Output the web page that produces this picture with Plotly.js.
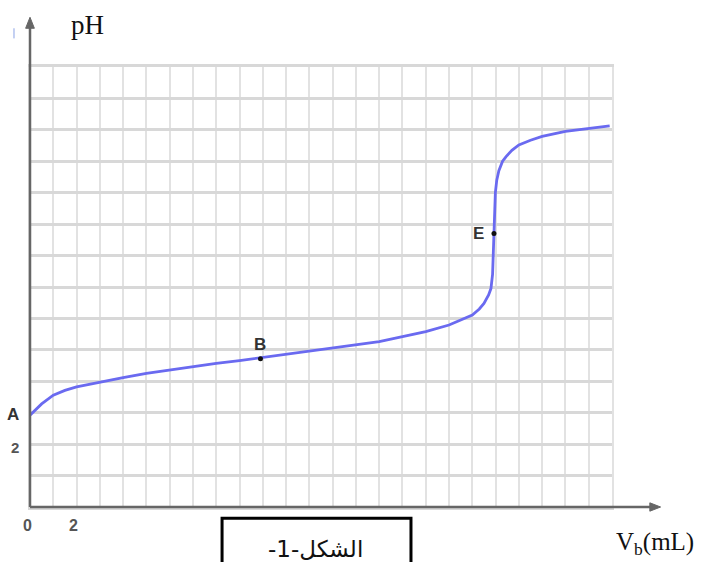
<!DOCTYPE html>
<html>
<head>
<meta charset="utf-8">
<script src="https://cdn.plot.ly/plotly-3.0.1.min.js"></script>
<style>html,body{margin:0;padding:0;background:#fff;}#chart{width:703px;height:562px;}</style>
</head>
<body>
<div id="chart"></div>
<script>
// Titration curve data
var vb = [0, 0.25, 0.5, 1, 1.5, 2, 3, 4, 5, 6, 7, 8, 9, 10, 11, 12, 13, 14, 15, 16, 17, 18, 18.5, 19, 19.3, 19.5, 19.7, 19.8, 19.87, 19.9, 19.93, 19.96, 19.99, 20.05, 20.14, 20.3, 20.45, 20.7, 21, 21.5, 22, 23, 24, 24.9];
var pH = [2.92, 3.1, 3.28, 3.56, 3.71, 3.82, 3.98, 4.12, 4.25, 4.36, 4.47, 4.57, 4.66, 4.76, 4.86, 4.96, 5.05, 5.15, 5.26, 5.42, 5.58, 5.79, 5.95, 6.11, 6.3, 6.48, 6.75, 6.95, 7.4, 8.0, 8.7, 9.5, 10.0, 10.4, 10.7, 11.0, 11.15, 11.35, 11.52, 11.67, 11.79, 11.95, 12.05, 12.13];

// Labelled points
var pointNames = ['A', 'B', 'E'];
var pointX = [0, 9.9, 19.93];
var pointY = [2.92, 4.72, 8.7];

// Tick labels
var xTickVals = [0, 2];
var xTickText = ['0', '2'];
var yTickVals = [2];
var yTickText = ['2'];

var curve = {
  x: vb, y: pH, type: 'scatter', mode: 'lines',
  line: {color: 'rgb(106,106,240)', width: 2.8},
  hoverinfo: 'skip', showlegend: false
};
var dots = {
  x: pointX.slice(1), y: pointY.slice(1), type: 'scatter', mode: 'markers',
  marker: {color: '#111', size: 5},
  hoverinfo: 'skip', showlegend: false
};

var labFont = {family: 'Liberation Sans, Arial, sans-serif', size: 17, color: '#333'};
var tickFont = {family: 'Liberation Sans, Arial, sans-serif', size: 16, color: '#555'};
var serif = {family: 'Liberation Serif, Times New Roman, serif', size: 27, color: '#111'};

var annotations = [
  {x: pointX[0], y: pointY[0], xref: 'x', yref: 'y', text: '<b>' + pointNames[0] + '</b>', showarrow: false, xanchor: 'right', yanchor: 'middle', xshift: -9, yshift: 1, font: labFont},
  {x: pointX[1], y: pointY[1], xref: 'x', yref: 'y', text: '<b>' + pointNames[1] + '</b>', showarrow: false, xanchor: 'center', yanchor: 'bottom', yshift: 3, font: labFont},
  {x: pointX[2], y: pointY[2], xref: 'x', yref: 'y', text: '<b>' + pointNames[2] + '</b>', showarrow: false, xanchor: 'right', yanchor: 'middle', xshift: -8, font: labFont},
  // axis titles
  {x: 0.098, y: 1.096, xref: 'paper', yref: 'paper', xanchor: 'center', yanchor: 'middle', text: 'pH', showarrow: false, font: serif},
  {x: 1.074, y: -0.1225, xref: 'paper', yref: 'paper', xanchor: 'center', yanchor: 'bottom', text: 'V<sub>b</sub>(mL)', showarrow: false, font: {family: serif.family, size: 25, color: '#111'}},
  // figure caption
  {x: 0.491, y: -0.096, xref: 'paper', yref: 'paper', xanchor: 'center', yanchor: 'middle', text: '-1-الشكل', showarrow: false, font: {family: 'DejaVu Sans, Arial, sans-serif', size: 23, color: '#111'}}
];
// tick labels drawn at their axis values
xTickVals.forEach(function (v, i) {
  annotations.push({x: v, y: 0, xref: 'x', yref: 'paper', text: '<b>' + xTickText[i] + '</b>', showarrow: false, xanchor: 'center', yanchor: 'top', xshift: -3, yshift: -8, font: tickFont});
});
yTickVals.forEach(function (v, i) {
  annotations.push({x: 0, y: v, xref: 'paper', yref: 'y', text: '<b>' + yTickText[i] + '</b>', showarrow: false, xanchor: 'right', yanchor: 'middle', xshift: -9, yshift: -3, font: {family: tickFont.family, size: 15, color: '#555'}});
});

var axisCol = '#666';
var shapes = [
  // caption frame
  {type: 'rect', xref: 'paper', yref: 'paper', x0: 0.33, x1: 0.6546, y0: -0.0255, y1: -0.2, line: {color: '#000', width: 3}},
  // small blue mark
  {type: 'line', xref: 'paper', yref: 'paper', x0: -0.0275, x1: -0.0275, y0: 1.088, y1: 1.065, line: {color: '#8aa2e6', width: 1}},
  // axes
  {type: 'line', xref: 'paper', yref: 'paper', x0: 0, x1: 0, y0: 0, y1: 1.095, line: {color: axisCol, width: 2.5}},
  {type: 'line', xref: 'paper', yref: 'paper', x0: 0, x1: 1.068, y0: 0, y1: 0, line: {color: axisCol, width: 2.5}},
  // arrowheads
  {type: 'path', xref: 'paper', yref: 'paper', path: 'M -0.0075 1.088 L 0 1.113 L 0.0075 1.088 Z', fillcolor: axisCol, line: {color: axisCol, width: 1}},
  {type: 'path', xref: 'paper', yref: 'paper', path: 'M 1.065 -0.0095 L 1.0835 0 L 1.065 0.0095 Z', fillcolor: axisCol, line: {color: axisCol, width: 1}}
];

var layout = {
  width: 703, height: 562,
  margin: {l: 30, r: 91, t: 67, b: 55},
  paper_bgcolor: '#fff', plot_bgcolor: '#fff',
  showlegend: false,
  xaxis: {
    range: [0, 25], tickmode: 'linear', tick0: 0, dtick: 1, showticklabels: false,
    showgrid: true, gridcolor: '#e2e2e2', gridwidth: 2,
    showline: true, mirror: true, linecolor: '#d8d8d8', linewidth: 3,
    zeroline: false, ticks: ''
  },
  yaxis: {
    range: [0, 14], tickmode: 'linear', tick0: 0, dtick: 1, showticklabels: false,
    showgrid: true, gridcolor: '#d8d8d8', gridwidth: 3,
    showline: true, mirror: true, linecolor: '#e2e2e2', linewidth: 2,
    zeroline: false, ticks: ''
  },
  annotations: annotations,
  shapes: shapes
};

Plotly.newPlot('chart', [curve, dots], layout, {staticPlot: true, displayModeBar: false});
</script>
</body>
</html>
